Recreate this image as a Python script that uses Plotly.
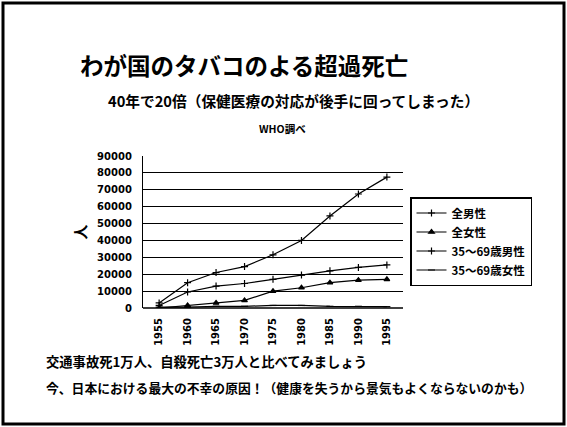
import plotly.graph_objects as go

years = ["1955", "1960", "1965", "1970", "1975", "1980", "1985", "1990", "1995"]
male_all = [3000, 15000, 21000, 24500, 31500, 40000, 54500, 67500, 77500]
male_3569 = [1500, 9500, 13000, 14500, 17000, 19500, 22000, 24000, 25500]
female_all = [0, 1500, 3000, 4500, 10000, 12000, 15000, 16500, 17000]
female_3569 = [500, 500, 1000, 1000, 1500, 1500, 1000, 1000, 800]
series_names = ["全男性", "全女性", "35～69歳男性", "35～69歳女性"]
yticks = [0, 10000, 20000, 30000, 40000, 50000, 60000, 70000, 80000, 90000]

W, H = 567, 427
L, R, T, B = 143, 403, 156, 308
PW, PH = R - L, B - T

def px(x):
    return (x - L) / PW

def py(y):
    return (B - y) / PH

FONT = "Noto Sans CJK JP"

fig = go.Figure()
data_for = {series_names[0]: male_all, series_names[1]: female_all,
            series_names[2]: male_3569, series_names[3]: female_3569}
markers = {series_names[0]: "cross-thin", series_names[1]: "triangle-up",
           series_names[2]: "cross-thin", series_names[3]: "line-ew"}
for name in series_names:
    fig.add_trace(go.Scatter(
        x=years, y=data_for[name], name=name, mode="lines+markers",
        line=dict(color="black", width=1.2),
        marker=dict(symbol=markers[name], size=5, color="black",
                    line=dict(color="black", width=1.2)),
    ))

fig.update_layout(
    width=W, height=H,
    margin=dict(l=L, r=W - R, t=T, b=H - B, pad=0),
    paper_bgcolor="white", plot_bgcolor="white",
    font=dict(family=FONT, color="black"),
    showlegend=True,
    legend=dict(x=px(410), y=py(197), xanchor="left", yanchor="top",
                bordercolor="black", borderwidth=1.5, bgcolor="white",
                font=dict(family=FONT, size=11.5, color="black", weight="bold"),
                tracegroupgap=0, itemwidth=30),
    xaxis=dict(type="category", showgrid=False, zeroline=False,
               showline=False, tickangle=-90, ticks="outside", ticklen=5,
               tickcolor="white",
               tickfont=dict(family="DejaVu Sans", size=10, color="black", weight="bold")),
    yaxis=dict(range=[0, 90000], tickvals=yticks,
               ticktext=[str(v) for v in yticks],
               showgrid=True, gridcolor="black", gridwidth=1.3,
               zeroline=False, showline=True, linecolor="black", linewidth=1.3,
               ticks="outside", ticklen=8, tickcolor="white",
               tickfont=dict(family="DejaVu Sans", size=10, color="black", weight="bold"),
               title=dict(text="人", font=dict(family=FONT, size=15, color="black",
                                               weight="bold"),
                          standoff=6)),
)

# bottom baseline
fig.add_shape(type="line", xref="paper", yref="paper", x0=0, x1=1, y0=0, y1=0,
              line=dict(color="black", width=1.5))
# slide border
fig.add_shape(type="rect", xref="paper", yref="paper",
              x0=px(3), x1=px(564), y0=py(424), y1=py(3),
              line=dict(color="black", width=3))

texts = [
    ("わが国のタバコのよる超過死亡", 78, 65, 23.5, "left"),
    ("40年で20倍（保健医療の対応が後手に回ってしまった）", 293, 101, 14.7, "center"),
    ("WHO調べ", 282, 128, 10.5, "center"),
    ("交通事故死1万人、自殺死亡3万人と比べてみましょう", 44, 361, 13.3, "left"),
    ("今、日本における最大の不幸の原因！（健康を失うから景気もよくならないのかも）", 44, 387, 12.8, "left"),
]
for t, x, y, s, al in texts:
    fig.add_annotation(text=t, xref="paper", yref="paper", x=px(x), y=py(y),
                       xanchor=al, yanchor="middle", showarrow=False,
                       font=dict(family=FONT, size=s, color="black", weight="bold"))

fig.write_html("out.html", config={"displayModeBar": False},
               post_script="document.body.style.margin='0';")
